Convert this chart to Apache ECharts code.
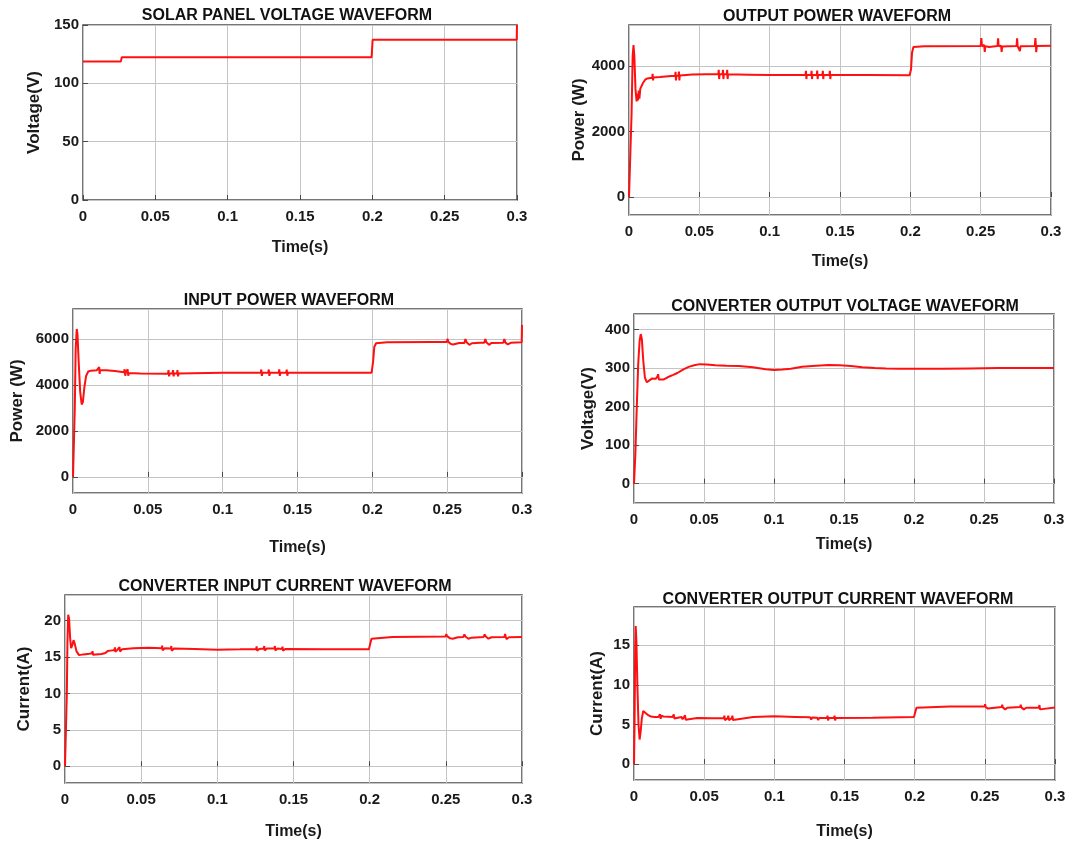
<!DOCTYPE html>
<html>
<head>
<meta charset="utf-8">
<title>Waveforms</title>
<script src="https://cdn.jsdelivr.net/npm/echarts@6/dist/echarts.min.js"></script>
<style>
  html, body { margin: 0; padding: 0; background: #fff; }
  #chart { width: 1070px; height: 841px; }
</style>
</head>
<body>
<div id="chart"></div>
<script>
// time axis ticks (s)
const timeTicks = [0, 0.05, 0.1, 0.15, 0.2, 0.25, 0.3];

const titles = [
  'SOLAR PANEL VOLTAGE WAVEFORM',
  'OUTPUT POWER WAVEFORM',
  'INPUT POWER WAVEFORM',
  'CONVERTER OUTPUT VOLTAGE WAVEFORM',
  'CONVERTER INPUT CURRENT WAVEFORM',
  'CONVERTER OUTPUT CURRENT WAVEFORM'
];
const yNames = ['Voltage(V)', 'Power (W)', 'Power (W)', 'Voltage(V)', 'Current(A)', 'Current(A)'];

// [time, value] samples
const solarVoltage = [[0, 118.8], [0.0262, 118.8], [0.0268, 122.3], [0.1995, 122.3], [0.2002, 137.4], [0.2998, 137.4], [0.3, 150]];

const outputPower = [
  [0, 0], [0.0008, 0], [0.0018, 2500], [0.0026, 4300], [0.0032, 4640], [0.0038, 4300], [0.0046, 3300], [0.0054, 2920],
  [0.006, 3150], [0.0064, 2950], [0.0069, 3250], [0.0074, 3000], [0.008, 3300], [0.0088, 3250], [0.0098, 3470],
  [0.0115, 3580], [0.013, 3620], [0.0165, 3640], [0.0168, 3760], [0.0171, 3560], [0.0174, 3650], [0.022, 3660],
  [0.03, 3690], [0.0328, 3690], [0.0331, 3820], [0.0334, 3560], [0.0337, 3700], [0.0352, 3700], [0.0355, 3830],
  [0.0358, 3560], [0.0361, 3710], [0.045, 3740], [0.055, 3750], [0.0635, 3745], [0.0638, 3880], [0.0641, 3600],
  [0.0644, 3745], [0.0665, 3745], [0.0668, 3880], [0.0671, 3600], [0.0674, 3745], [0.0695, 3745], [0.0698, 3880],
  [0.0701, 3600], [0.0704, 3745], [0.085, 3735], [0.1, 3720], [0.115, 3720], [0.1255, 3725], [0.1258, 3850],
  [0.1261, 3600], [0.1264, 3725], [0.1295, 3725], [0.1298, 3850], [0.1301, 3600], [0.1304, 3725], [0.1335, 3725],
  [0.1338, 3860], [0.1341, 3600], [0.1344, 3725], [0.1375, 3725], [0.1378, 3850], [0.1381, 3600], [0.1384, 3725],
  [0.1425, 3725], [0.1428, 3850], [0.1431, 3600], [0.1434, 3725], [0.17, 3720], [0.1995, 3715], [0.2005, 3900],
  [0.2012, 4400], [0.2022, 4580], [0.21, 4600], [0.25, 4610], [0.2505, 4850], [0.2509, 4600], [0.2525, 4640],
  [0.2529, 4430], [0.2533, 4600], [0.256, 4580], [0.262, 4610], [0.2624, 4840], [0.2628, 4600], [0.2645, 4620],
  [0.2649, 4430], [0.2653, 4590], [0.27, 4600], [0.2755, 4610], [0.2759, 4840], [0.2763, 4600], [0.2775, 4620],
  [0.2779, 4450], [0.2783, 4600], [0.2885, 4610], [0.2889, 4850], [0.2893, 4600], [0.2895, 4420], [0.2899, 4610],
  [0.3, 4620]
];

const inputPower = [
  [0, 0], [0.0006, 0], [0.0012, 3000], [0.0018, 5600], [0.0025, 6430], [0.003, 6200], [0.0038, 5000], [0.0048, 3700],
  [0.0058, 3150], [0.0066, 3250], [0.0076, 3900], [0.0088, 4400], [0.0102, 4580], [0.012, 4620], [0.016, 4640],
  [0.0172, 4650], [0.0175, 4780], [0.0178, 4480], [0.0181, 4640], [0.022, 4640], [0.028, 4600], [0.034, 4550],
  [0.0345, 4680], [0.0349, 4400], [0.0353, 4540], [0.0362, 4540], [0.0365, 4680], [0.0369, 4400], [0.0373, 4520],
  [0.045, 4500], [0.0635, 4490], [0.0638, 4640], [0.0642, 4370], [0.0646, 4500], [0.0665, 4500], [0.0668, 4640],
  [0.0672, 4370], [0.0676, 4500], [0.0695, 4500], [0.0698, 4640], [0.0702, 4370], [0.0706, 4500], [0.08, 4510],
  [0.1, 4530], [0.12, 4530], [0.1255, 4530], [0.1258, 4670], [0.1262, 4390], [0.1266, 4530], [0.1305, 4530],
  [0.1308, 4670], [0.1312, 4390], [0.1316, 4530], [0.1375, 4530], [0.1378, 4680], [0.1382, 4390], [0.1386, 4530],
  [0.1425, 4530], [0.1428, 4660], [0.1432, 4400], [0.1436, 4530], [0.17, 4530], [0.1995, 4530], [0.2005, 5000],
  [0.2013, 5650], [0.2025, 5810], [0.21, 5850], [0.24, 5860], [0.2498, 5860], [0.2502, 6000], [0.2508, 5870],
  [0.2525, 5780], [0.254, 5760], [0.258, 5820], [0.2615, 5820], [0.2622, 5990], [0.263, 5850], [0.2648, 5740],
  [0.2665, 5810], [0.272, 5830], [0.2748, 5830], [0.2755, 5990], [0.2762, 5850], [0.278, 5740], [0.2795, 5820],
  [0.2875, 5830], [0.2882, 6000], [0.2888, 5850], [0.2905, 5760], [0.2925, 5830], [0.2998, 5850], [0.3, 6600]
];

const converterVoltage = [
  [0, 0], [0.001, 80], [0.002, 200], [0.003, 310], [0.004, 370], [0.0048, 388], [0.0056, 375], [0.0066, 320],
  [0.0078, 275], [0.0092, 263], [0.011, 268], [0.013, 273], [0.0155, 272], [0.0168, 278], [0.0172, 284],
  [0.0178, 270], [0.019, 266], [0.021, 270], [0.024, 276], [0.028, 282], [0.031, 287], [0.035, 296], [0.039, 303],
  [0.043, 307], [0.047, 310], [0.052, 309], [0.058, 307], [0.066, 306], [0.075, 305], [0.085, 302], [0.094, 297],
  [0.1, 295], [0.106, 296], [0.112, 298], [0.12, 303], [0.13, 306], [0.139, 308], [0.147, 307], [0.155, 305],
  [0.163, 302], [0.172, 300], [0.18, 299], [0.19, 298], [0.2, 298], [0.22, 298], [0.24, 299], [0.26, 300],
  [0.28, 300], [0.3, 300]
];

const inputCurrent = [
  [0, 0], [0.0008, 0], [0.0012, 10], [0.0016, 17], [0.0021, 20.8], [0.0027, 20.2], [0.0034, 17.5], [0.004, 16.2],
  [0.0048, 16.6], [0.0056, 17.3], [0.0064, 16.8], [0.0075, 15.8], [0.0092, 15.25], [0.012, 15.35], [0.016, 15.45],
  [0.0178, 15.5], [0.0181, 15.8], [0.0184, 15.3], [0.02, 15.35], [0.024, 15.4], [0.0265, 15.55], [0.028, 15.8],
  [0.031, 15.9], [0.0325, 15.95], [0.0328, 16.3], [0.0331, 15.7], [0.0345, 16.0], [0.0355, 16.0], [0.0358, 16.35],
  [0.0361, 15.75], [0.0375, 16.05], [0.045, 16.2], [0.055, 16.25], [0.0635, 16.2], [0.0638, 16.55], [0.0641, 15.9],
  [0.0655, 16.2], [0.0695, 16.15], [0.0698, 16.5], [0.0701, 15.85], [0.0715, 16.15], [0.085, 16.1], [0.1, 16.0],
  [0.115, 16.05], [0.1255, 16.1], [0.1258, 16.45], [0.1261, 15.85], [0.1275, 16.1], [0.1305, 16.15], [0.1308, 16.5],
  [0.1311, 15.9], [0.1325, 16.15], [0.1375, 16.15], [0.1378, 16.5], [0.1381, 15.9], [0.1395, 16.15], [0.1425, 16.1],
  [0.1428, 16.4], [0.1431, 15.85], [0.1445, 16.1], [0.17, 16.05], [0.1995, 16.05], [0.2005, 16.9], [0.2012, 17.5],
  [0.2025, 17.7], [0.215, 17.75], [0.2498, 17.8], [0.2503, 18.15], [0.2508, 17.85], [0.2528, 17.55], [0.2545, 17.5],
  [0.258, 17.7], [0.2615, 17.75], [0.2622, 18.1], [0.2628, 17.8], [0.2648, 17.5], [0.2668, 17.65], [0.2748, 17.75],
  [0.2755, 18.1], [0.2762, 17.8], [0.278, 17.5], [0.28, 17.7], [0.2885, 17.75], [0.2889, 18.15], [0.2893, 17.8],
  [0.2898, 17.45], [0.2915, 17.7], [0.3, 17.75]
];

const outputCurrent = [
  [0, 0], [0.0004, 5], [0.0008, 14], [0.0012, 17.4], [0.0017, 15.5], [0.0024, 10], [0.0032, 5], [0.004, 3.1],
  [0.0048, 4.2], [0.0056, 5.8], [0.0066, 6.7], [0.008, 6.5], [0.0095, 6.25], [0.012, 6.0], [0.0145, 5.95],
  [0.0175, 5.95], [0.0185, 6.3], [0.019, 5.7], [0.0195, 6.1], [0.021, 6.0], [0.0275, 5.95], [0.0283, 6.25],
  [0.0288, 5.75], [0.0293, 6.0], [0.0338, 5.95], [0.0342, 6.2], [0.0346, 5.65], [0.0352, 5.9], [0.036, 5.9],
  [0.0364, 6.15], [0.0368, 5.6], [0.0373, 5.85], [0.045, 5.8], [0.055, 5.78], [0.064, 5.8], [0.0644, 6.1],
  [0.0648, 5.55], [0.0653, 5.8], [0.0668, 5.8], [0.0672, 6.1], [0.0676, 5.55], [0.0681, 5.8], [0.0697, 5.8],
  [0.0701, 6.1], [0.0705, 5.55], [0.071, 5.8], [0.085, 5.95], [0.1, 6.03], [0.115, 5.95], [0.1255, 5.9],
  [0.1259, 6.15], [0.1263, 5.6], [0.1268, 5.88], [0.1305, 5.85], [0.1309, 6.1], [0.1313, 5.55], [0.1318, 5.82],
  [0.1375, 5.82], [0.1379, 6.1], [0.1383, 5.5], [0.1388, 5.8], [0.1425, 5.8], [0.1429, 6.1], [0.1433, 5.5],
  [0.1438, 5.8], [0.17, 5.85], [0.1995, 5.95], [0.2005, 6.6], [0.2013, 7.1], [0.2025, 7.25], [0.225, 7.25],
  [0.2498, 7.25], [0.2502, 7.55], [0.2506, 7.2], [0.2522, 7.0], [0.2535, 7.1], [0.262, 7.2], [0.2624, 7.5],
  [0.2628, 7.15], [0.2645, 6.9], [0.266, 7.1], [0.2752, 7.2], [0.2756, 7.5], [0.276, 7.15], [0.2778, 6.9],
  [0.2795, 7.1], [0.2885, 7.15], [0.2889, 7.45], [0.2893, 6.9], [0.2905, 7.1], [0.3, 7.15]
];

const seriesData = [solarVoltage, outputPower, inputPower, converterVoltage, inputCurrent, outputCurrent];

// y ranges and tick steps per panel
const yMin = [0, -550, -700, -50, -2.3, -2];
const yMax = [150, 5250, 7300, 440, 23.5, 19.8];
const yStep = [50, 2000, 2000, 100, 5, 5];

// plot boxes [left, top, width, height] and label placement
const boxes = [
  [83, 25, 434, 175],
  [629, 25, 422, 190],
  [73, 309, 449, 184],
  [634, 314, 420, 189],
  [65, 595, 457, 189],
  [634, 607, 421, 179]
];
const titlePos = [[287, 16], [837, 17], [289, 301], [845, 307], [285, 587], [838, 600]];
const yNameGap = [40, 35, 47, 37, 32, 28];
const xNameGap = [40, 39, 47, 34, 41, 44];

const FONT = '"Liberation Sans", Arial, sans-serif';
const DARK = '#4a4a4a';

const chart = echarts.init(document.getElementById('chart'));

const grid = boxes.map(b => ({
  left: b[0], top: b[1], width: b[2], height: b[3],
  show: true, borderColor: DARK, borderWidth: 1.5, backgroundColor: '#fff',
  containLabel: false
}));

const xAxis = boxes.map((b, i) => ({
  type: 'value', gridIndex: i,
  min: timeTicks[0], max: timeTicks[timeTicks.length - 1], interval: 0.05,
  name: 'Time(s)', nameLocation: 'middle', nameGap: xNameGap[i],
  nameTextStyle: { color: '#1a1a1a', fontWeight: 'bold', fontSize: 16, fontFamily: FONT },
  axisLine: { show: false },
  axisTick: { show: true, inside: true, length: 5, lineStyle: { color: DARK } },
  axisLabel: { color: '#1a1a1a', fontWeight: 'bold', fontSize: 15, fontFamily: FONT, margin: 9 },
  splitLine: { show: true, lineStyle: { color: '#c4c4c4', width: 1 } }
}));

const yAxis = boxes.map((b, i) => ({
  type: 'value', gridIndex: i,
  min: yMin[i], max: yMax[i], minInterval: yStep[i], maxInterval: yStep[i],
  name: yNames[i], nameLocation: 'middle', nameGap: yNameGap[i],
  nameTextStyle: { color: '#1a1a1a', fontWeight: 'bold', fontSize: 17, fontFamily: FONT },
  axisLine: { show: false },
  axisTick: { show: true, inside: true, length: 5, lineStyle: { color: DARK } },
  axisLabel: {
    color: '#1a1a1a', fontWeight: 'bold', fontSize: 15, fontFamily: FONT, margin: 4,
    formatter: v => String(v),
    showMinLabel: yMin[i] % yStep[i] === 0, showMaxLabel: yMax[i] % yStep[i] === 0
  },
  splitLine: { show: true, lineStyle: { color: '#c4c4c4', width: 1 } }
}));

const series = seriesData.map((d, i) => ({
  type: 'line', xAxisIndex: i, yAxisIndex: i,
  data: d, showSymbol: false, animation: false,
  lineStyle: { color: '#ff1010', width: 2 },
  clip: true
}));

const graphic = titles.map((t, i) => ({
  type: 'text', x: titlePos[i][0], y: titlePos[i][1],
  style: {
    text: t, fill: '#111', fontSize: 16, fontWeight: 'bold', fontFamily: FONT,
    align: 'center', verticalAlign: 'middle'
  }
}));

chart.setOption({
  backgroundColor: '#fff',
  animation: false,
  grid: grid,
  xAxis: xAxis,
  yAxis: yAxis,
  series: series,
  graphic: graphic
});
</script>
</body>
</html>
